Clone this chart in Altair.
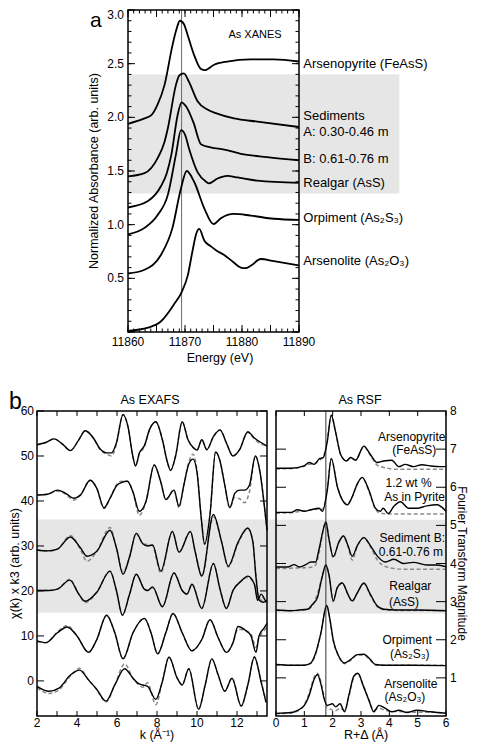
import altair as alt
import pandas as pd

FONT = "Liberation Sans"
BAND = "#e6e6e6"

# ---------------- Panel a: As XANES ----------------
arsenopyrite_e = [11860.0, 11862.9, 11864.1, 11865.2, 11866.4, 11867.8, 11868.5, 11869.1, 11869.8, 11870.5,
                  11871.6, 11872.8, 11873.5, 11875.1, 11877.4, 11881.5, 11885.6, 11890.0]
arsenopyrite_a = [1.94, 1.99, 2.02, 2.12, 2.30, 2.67, 2.82, 2.90, 2.87, 2.76,
                  2.58, 2.45, 2.44, 2.49, 2.52, 2.54, 2.54, 2.52]
sedA_e = [11860.0, 11862.9, 11865.2, 11866.4, 11867.0, 11868.4, 11869.0, 11869.8, 11870.7, 11872.2,
          11874.0, 11875.4, 11878.6, 11882.7, 11890.0]
sedA_a = [1.45, 1.48, 1.62, 1.77, 1.90, 2.30, 2.39, 2.41, 2.33, 2.15, 2.07, 2.04, 1.99, 1.96, 1.91]
sedB_e = [11860.0, 11863.5, 11865.8, 11866.8, 11867.6, 11868.7, 11869.4, 11870.2, 11871.5, 11872.8,
          11874.5, 11876.9, 11879.8, 11884.4, 11890.0]
sedB_a = [1.16, 1.22, 1.36, 1.48, 1.65, 2.02, 2.14, 2.10, 1.95, 1.75, 1.72, 1.70, 1.66, 1.63, 1.60]
realgar_e = [11860.0, 11862.9, 11865.2, 11867.0, 11868.4, 11869.3, 11870.0, 11870.7, 11872.2, 11873.7,
             11874.2, 11875.7, 11877.4, 11879.2, 11882.7, 11890.0]
realgar_a = [0.91, 0.97, 1.09, 1.28, 1.65, 1.88, 1.84, 1.71, 1.49, 1.40, 1.385, 1.43, 1.455, 1.44, 1.41, 1.39]
orpiment_e = [11860.0, 11862.9, 11865.8, 11867.8, 11869.3, 11870.3, 11871.6, 11873.4, 11875.0, 11876.3,
              11878.6, 11881.5, 11885.6, 11890.0]
orpiment_a = [0.545, 0.58, 0.72, 0.97, 1.34, 1.50, 1.40, 1.15, 1.005, 1.06, 1.10, 1.085, 1.055, 1.045]
arsenolite_e = [11860.0, 11863.5, 11865.8, 11868.1, 11869.4, 11870.5, 11871.3, 11872.0, 11872.5, 11873.4,
                11874.5, 11875.5, 11876.8, 11878.5, 11879.8, 11880.6, 11881.6, 11883.3, 11885.6, 11890.0]
arsenolite_a = [0.01, 0.04, 0.10, 0.26, 0.37, 0.53, 0.75, 0.92, 0.96, 0.85,
                0.80, 0.76, 0.72, 0.65, 0.60, 0.595, 0.62, 0.68, 0.66, 0.62]

xanes_edge = [11869.4]
xanes_band = [1.29, 2.40]
xanes_labels = ["Arsenopyrite (FeAsS)", "Sediments", "A: 0.30-0.46 m", "B: 0.61-0.76 m",
                "Realgar (AsS)", "Orpiment (As\u2082S\u2083)", "Arsenolite (As\u2082O\u2083)"]
xanes_label_y = [2.50, 2.015, 1.866, 1.61, 1.39, 1.06, 0.66]
xanes_xtick_labels = [11860, 11870, 11880, 11890]
xanes_ytick_labels = [0.5, 1.0, 1.5, 2.0, 2.5]
xanes_ytick_top = [3.0]

# ---------------- Panel b: As EXAFS (k^3 weighted) ----------------
e1_k = [2.0, 2.44, 2.85, 3.26, 3.67, 4.09, 4.41, 4.82, 5.15, 5.48, 5.73, 5.97, 6.30, 6.55, 6.79, 6.93, 7.12,
        7.37, 7.62, 7.94, 8.27, 8.52, 8.68, 8.93, 9.26, 9.55, 9.83, 10.0, 10.24, 10.49, 10.82, 11.15, 11.47,
        11.80, 12.13, 12.54, 12.87, 13.2, 13.5]
e1_chi = [52.5, 53.0, 53.8, 52.7, 51.2, 53.6, 55.6, 54.0, 51.6, 50.7, 50.7, 52.9, 59.2, 56.5, 50.0, 47.8, 50.7,
          52.3, 55.8, 57.6, 53.6, 48.6, 46.8, 50.0, 57.6, 53.6, 51.8, 51.3, 53.6, 51.4, 54.3, 55.8, 52.9,
          50.0, 51.4, 55.4, 54.0, 53.0, 52.2]
e1_fit = [52.5, 53.0, 53.8, 52.7, 51.2, 53.6, 55.6, 54.0, 51.4, 50.4, 50.0, 52.6, 59.2, 56.5, 50.0, 47.8, 50.5,
          52.0, 55.8, 57.6, 53.6, 48.6, 46.8, 50.0, 57.6, 53.6, 51.8, 51.3, 53.6, 51.4, 54.3, 55.8, 52.9,
          50.0, 51.4, 55.2, 53.8, 52.6, 52.4]

e2_k = [2.0, 2.53, 3.02, 3.43, 3.84, 4.17, 4.66, 4.99, 5.35, 5.65, 6.0, 6.22, 6.52, 6.79, 7.12, 7.45, 7.86,
        8.19, 8.44, 8.85, 9.1, 9.34, 9.59, 9.8, 10.0, 10.21, 10.38, 10.65, 10.93, 11.15, 11.39, 11.64, 11.89,
        12.13, 12.38, 12.62, 12.92, 13.15, 13.36, 13.5]
e2_chi = [41.3, 41.5, 42.4, 41.7, 40.6, 41.3, 44.6, 42.8, 38.5, 40.6, 43.5, 44.1, 44.4, 42.1, 37.7, 39.9, 48.0,
          44.2, 40.3, 42.4, 38.8, 43.5, 48.2, 49.3, 46.4, 36.3, 30.4, 37.0, 50.9, 48.9, 43.5, 38.5, 41.7,
          42.4, 42.4, 43.5, 50.0, 46.4, 39.2, 33.5]
e2_fit = [41.3, 41.5, 42.2, 41.5, 40.2, 41.3, 44.6, 42.8, 38.3, 40.6, 43.8, 44.4, 44.4, 42.1, 36.8, 39.9, 48.0,
          44.2, 40.3, 42.4, 38.5, 43.5, 48.6, 50.4, 46.8, 36.3, 30.4, 37.0, 51.0, 48.9, 43.5, 38.5, 40.8,
          40.5, 39.6, 42.0, 50.0, 46.4, 39.2, 33.5]

e3_k = [2.0, 2.53, 3.02, 3.67, 4.17, 4.5, 4.99, 5.65, 5.97, 6.3, 6.63, 6.96, 7.29, 7.53, 7.78, 8.19, 8.77,
        9.1, 9.67, 9.91, 10.24, 10.82, 11.23, 11.56, 12.05, 12.54, 12.79, 12.95, 13.1, 13.3, 13.5]
e3_chi = [29.1, 28.9, 29.3, 32.0, 29.6, 27.7, 28.8, 33.5, 29.6, 23.7, 27.6, 32.8, 30.5, 30.0, 30.2, 24.4, 33.2,
          28.6, 33.2, 28.7, 23.3, 37.0, 30.9, 25.5, 30.8, 34.0, 31.0, 23.0, 18.0, 17.5, 17.8]
e3_fit = [29.1, 28.9, 29.3, 32.3, 29.2, 26.6, 28.8, 34.1, 29.6, 24.2, 27.6, 32.8, 30.5, 30.3, 30.0, 24.0, 33.2,
          28.6, 33.2, 28.7, 23.3, 36.5, 30.9, 25.3, 30.5, 33.8, 31.0, 23.5, 18.5, 17.8, 17.8]

e4_k = [2.0, 2.6, 3.02, 3.64, 4.09, 4.41, 4.99, 5.65, 5.97, 6.27, 6.63, 6.96, 7.37, 7.53, 7.78, 8.27, 8.85,
        9.26, 9.5, 9.75, 10.24, 10.82, 11.15, 11.47, 11.8, 12.21, 12.54, 12.87, 13.03, 13.2, 13.45]
e4_chi = [20.1, 20.1, 20.4, 22.4, 19.3, 17.7, 19.7, 24.4, 20.1, 14.6, 19.3, 23.7, 20.4, 20.1, 20.9, 16.5, 24.0,
          20.1, 19.3, 21.5, 16.1, 26.1, 20.4, 16.1, 20.1, 22.2, 23.3, 21.5, 17.9, 19.3, 17.5]
e4_fit = [20.1, 20.1, 20.4, 22.6, 19.3, 17.4, 19.7, 24.4, 20.1, 14.6, 19.3, 23.7, 20.4, 20.1, 20.7, 16.5, 24.0,
          20.1, 19.3, 21.5, 16.1, 26.1, 20.4, 16.1, 20.1, 22.2, 23.0, 21.5, 18.5, 18.8, 17.5]

e5_k = [2.0, 2.44, 3.02, 3.51, 4.0, 4.58, 4.99, 5.48, 5.89, 6.3, 6.8, 7.37, 7.7, 8.03, 8.44, 8.8, 9.26, 9.75,
        10.24, 10.65, 11.06, 11.47, 11.8, 12.05, 12.38, 12.7, 12.95, 13.1, 13.36, 13.5]
e5_chi = [8.9, 8.5, 10.7, 12.0, 10.0, 6.35, 9.2, 14.6, 10.7, 4.9, 10.7, 13.9, 10.7, 6.0, 10.7, 15.0, 10.7, 6.7,
          9.2, 13.6, 9.6, 6.35, 8.5, 12.1, 11.4, 10.0, 6.35, 10.0, 11.8, 12.8]
e5_fit = [8.7, 8.5, 10.9, 12.3, 10.0, 6.35, 9.2, 14.6, 10.7, 4.9, 10.7, 13.9, 10.7, 6.0, 10.7, 15.0, 10.7, 6.7,
          9.2, 13.6, 9.6, 6.35, 8.5, 11.5, 11.2, 10.4, 7.5, 9.6, 11.2, 12.0]

e6_k = [2.0, 2.6, 3.1, 3.67, 4.13, 4.58, 4.99, 5.45, 5.89, 6.38, 6.8, 7.04, 7.29, 7.53, 7.94, 8.27, 8.6, 9.01,
        9.26, 9.59, 10.08, 10.41, 10.74, 11.06, 11.39, 11.75, 12.21, 12.54, 12.87, 13.2, 13.45]
e6_chi = [-1.2, -2.3, -1.6, 1.3, 2.4, 0.2, -1.9, -4.5, -0.9, 2.7, 0.6, -0.5, -0.9, -1.2, -4.1, -0.1, 5.3, 0.6,
          -0.9, 2.7, -6.3, -0.9, 4.9, 1.3, -2.3, 0.6, -5.6, -0.9, 5.3, -0.1, -4.8]
e6_fit = [-1.5, -2.8, -2.0, 1.1, 2.8, 0.2, -1.9, -4.7, -0.9, 3.8, 0.6, -0.7, -1.4, -0.4, -5.3, -0.1, 5.3, 0.6,
          -0.9, 2.7, -6.3, -0.9, 4.9, 1.3, -2.3, 0.6, -5.6, -0.9, 5.3, -0.1, -4.5]

exafs_band = [15.15, 35.9]
exafs_xtick_labels = [2, 4, 6, 8, 10, 12]
exafs_ytick_labels = [0, 10, 20, 30, 40, 50, 60]

# ---------------- Panel b: As RSF ----------------
r1_r = [0.0, 0.53, 0.99, 1.17, 1.35, 1.52, 1.67, 1.81, 1.95, 2.1, 2.28, 2.49, 2.63, 2.81, 3.1, 3.33, 3.57, 3.8,
        4.09, 4.33, 4.56, 4.85, 5.15, 5.44, 5.79, 6.0]
r1_ft = [6.5, 6.5, 6.56, 6.65, 6.6, 6.74, 6.78, 7.2, 7.89, 7.46, 6.86, 6.69, 6.78, 6.71, 7.08, 6.86, 6.65, 6.69,
         6.71, 6.54, 6.6, 6.54, 6.59, 6.56, 6.54, 6.54]
r1_fit = [6.48, 6.49, 6.55, 6.6, 6.62, 6.7, 6.8, 7.25, 7.89, 7.46, 6.86, 6.7, 6.76, 6.72, 7.06, 6.84, 6.58, 6.52,
          6.48, 6.47, 6.47, 6.47, 6.47, 6.47, 6.47, 6.47]
r2_r = [0.0, 0.53, 0.76, 1.0, 1.23, 1.52, 1.64, 1.81, 1.95, 2.17, 2.34, 2.52, 2.69, 2.87, 3.04, 3.28, 3.51, 3.68,
        3.78, 3.96, 4.16, 4.39, 4.68, 4.97, 5.32, 5.68, 6.0]
r2_ft = [5.34, 5.34, 5.41, 5.37, 5.41, 5.45, 5.37, 5.92, 6.75, 6.0, 5.67, 5.54, 5.75, 6.09, 6.26, 5.92, 5.45, 5.37,
         5.45, 5.31, 5.5, 5.62, 5.45, 5.45, 5.51, 5.54, 5.37]
r2_fit = [5.32, 5.33, 5.36, 5.38, 5.4, 5.43, 5.42, 5.95, 6.75, 6.0, 5.67, 5.56, 5.75, 6.08, 6.25, 5.9, 5.42, 5.32,
          5.31, 5.3, 5.3, 5.3, 5.3, 5.3, 5.3, 5.3, 5.3]
r3_r = [0.0, 0.41, 0.64, 0.82, 1.05, 1.23, 1.4, 1.52, 1.7, 1.76, 1.87, 2.02, 2.22, 2.38, 2.54, 2.69, 2.87, 3.1,
        3.33, 3.57, 3.86, 4.16, 4.5, 4.85, 5.32, 5.68, 6.0]
r3_ft = [3.91, 3.91, 3.97, 3.91, 3.97, 4.04, 4.04, 4.38, 4.98, 5.09, 4.64, 4.18, 4.56, 4.72, 4.47, 4.19, 4.47, 4.68,
         4.47, 4.2, 4.04, 4.11, 4.0, 4.03, 3.96, 3.96, 3.91]
r3_fit = [3.87, 3.87, 3.88, 3.88, 3.89, 3.9, 3.96, 4.28, 4.98, 5.09, 4.64, 4.15, 4.56, 4.72, 4.45, 4.09, 4.45, 4.68,
          4.44, 4.1, 3.92, 3.87, 3.85, 3.85, 3.85, 3.85, 3.85]
r4_r = [0.0, 0.53, 0.82, 1.11, 1.29, 1.46, 1.62, 1.76, 1.87, 2.02, 2.16, 2.34, 2.54, 2.69, 2.87, 3.1, 3.33, 3.57,
        3.8, 4.27, 4.97, 6.0]
r4_ft = [2.78, 2.76, 2.78, 2.8, 2.93, 3.1, 3.62, 3.96, 3.7, 3.02, 3.36, 3.49, 3.19, 3.02, 3.23, 3.49, 3.19, 2.89,
         2.8, 2.78, 2.78, 2.76]
r4_fit = [2.77, 2.77, 2.77, 2.79, 2.9, 3.2, 3.62, 3.96, 3.7, 3.0, 3.36, 3.49, 3.19, 3.0, 3.23, 3.47, 3.17, 2.87,
          2.79, 2.77, 2.77, 2.77]
r5_r = [0.0, 0.53, 1.0, 1.23, 1.4, 1.58, 1.79, 1.9, 2.02, 2.22, 2.42, 2.63, 2.87, 3.1, 3.33, 3.51, 3.8, 4.5, 6.0]
r5_ft = [1.35, 1.33, 1.33, 1.39, 1.65, 2.16, 2.9, 2.55, 1.99, 1.56, 1.39, 1.48, 1.61, 1.62, 1.48, 1.35, 1.33,
         1.33, 1.32]
r5_fit = [1.34, 1.33, 1.33, 1.38, 1.62, 2.16, 2.9, 2.55, 1.99, 1.55, 1.37, 1.46, 1.6, 1.6, 1.46, 1.34, 1.33,
          1.33, 1.33]
r6_r = [0.0, 0.53, 0.76, 1.0, 1.17, 1.35, 1.46, 1.6, 1.7, 1.81, 1.99, 2.11, 2.26, 2.42, 2.57, 2.75, 2.89, 3.08,
        3.28, 3.45, 3.63, 3.86, 4.09, 4.33, 4.62, 4.97, 5.44, 6.0]
r6_ft = [0.07, 0.09, 0.15, 0.28, 0.54, 0.97, 1.09, 0.79, 0.45, 0.28, 0.32, 0.24, 0.32, 0.11, 0.54, 1.05, 1.12,
         0.79, 0.41, 0.11, 0.28, 0.2, 0.11, 0.15, 0.09, 0.15, 0.11, 0.07]
r6_fit = [0.06, 0.08, 0.13, 0.3, 0.6, 1.02, 1.12, 0.85, 0.5, 0.22, 0.16, 0.14, 0.2, 0.15, 0.5, 1.02, 1.12, 0.8,
          0.42, 0.15, 0.2, 0.15, 0.12, 0.12, 0.1, 0.1, 0.1, 0.08]

rsf_edge = [1.76]
rsf_band = [2.69, 5.15]
rsf_labels = ["Arsenopyrite", "(FeAsS)", "1.2 wt %", "As in Pyrite", "Sediment B:", "0.61-0.76 m",
              "Realgar", "(AsS)", "Orpiment", "(As\u2082S\u2083)", "Arsenolite", "(As\u2082O\u2083)"]
rsf_label_r = [4.79, 4.88, 4.68, 4.89, 4.81, 4.76, 4.74, 4.52, 4.63, 4.72, 4.76, 4.55]
rsf_label_y = [7.33, 6.97, 6.11, 5.75, 4.68, 4.31, 3.40, 3.00, 2.00, 1.62, 0.83, 0.49]
rsf_xtick_labels = [0, 1, 2, 3, 4, 5, 6]
rsf_ytick_labels = [1, 2, 3, 4, 5, 6, 7, 8]


# ---------------- helpers ----------------
def long_frame(series):
    rows = []
    for name, xs, ys in series:
        for i, (x, y) in enumerate(zip(xs, ys)):
            rows.append({"s": name, "x": x, "y": y, "i": i})
    return pd.DataFrame(rows)


def xticks(vals, length, scale, H):
    base = alt.Chart(pd.DataFrame({"t": vals})).mark_rule(color="black", strokeWidth=1)
    X = alt.X("t:Q", scale=scale, axis=None)
    return [base.encode(x=X, y=alt.value(H - length), y2=alt.value(H)),
            base.encode(x=X, y=alt.value(0), y2=alt.value(length))]


def yticks(vals, length, scale, W):
    base = alt.Chart(pd.DataFrame({"t": vals})).mark_rule(color="black", strokeWidth=1)
    Y = alt.Y("t:Q", scale=scale, axis=None)
    return [base.encode(y=Y, x=alt.value(0), x2=alt.value(length)),
            base.encode(y=Y, x=alt.value(W - length), x2=alt.value(W))]


def frame(W, H):
    return alt.Chart(pd.DataFrame({"d": [0]})).mark_rect(
        fillOpacity=0, stroke="black", strokeWidth=1.5
    ).encode(x=alt.value(0), x2=alt.value(W), y=alt.value(0), y2=alt.value(H))


def xlabels(vals, fmt, scale, ypix):
    df = pd.DataFrame({"v": vals, "lab": [fmt.format(v) for v in vals]})
    return alt.Chart(df).mark_text(align="center", baseline="middle", font=FONT, fontSize=12,
                                   color="black").encode(
        x=alt.X("v:Q", scale=scale, axis=None), y=alt.value(ypix), text="lab:N")


def ylabels(vals, fmt, scale, xpix, align, baseline="middle"):
    df = pd.DataFrame({"v": vals, "lab": [fmt.format(v) for v in vals]})
    return alt.Chart(df).mark_text(align=align, baseline=baseline, font=FONT, fontSize=12,
                                   color="black").encode(
        y=alt.Y("v:Q", scale=scale, axis=None), x=alt.value(xpix), text="lab:N")


def title_text(text, xpix, ypix, angle=0, size=12.5):
    return alt.Chart(pd.DataFrame({"lab": [text]})).mark_text(
        align="center", baseline="middle", font=FONT, fontSize=size, color="black", angle=angle).encode(
        x=alt.value(xpix), y=alt.value(ypix), text="lab:N")


def band(x0, x1, y0, y1, xs, ys):
    return alt.Chart(pd.DataFrame({"x": [x0], "x2": [x1], "y": [y0], "y2": [y1]})).mark_rect(
        color=BAND).encode(x=alt.X("x:Q", scale=xs, axis=None), x2="x2:Q",
                           y=alt.Y("y:Q", scale=ys, axis=None), y2="y2:Q")


# ---------------- Panel a ----------------
WA, HA = 171, 322
xA = alt.Scale(domain=[11860, 11890], nice=False, zero=False)
yA = alt.Scale(domain=[0, 3.0], nice=False)

xanes_df = long_frame([
    ("Arsenopyrite", arsenopyrite_e, arsenopyrite_a),
    ("Sediment A", sedA_e, sedA_a),
    ("Sediment B", sedB_e, sedB_a),
    ("Realgar", realgar_e, realgar_a),
    ("Orpiment", orpiment_e, orpiment_a),
    ("Arsenolite", arsenolite_e, arsenolite_a),
])

band_a = band(11860, 11907.6, xanes_band[0], xanes_band[1], xA, yA)
edge_a = alt.Chart(pd.DataFrame({"x": xanes_edge})).mark_rule(color="#6a6a6a", strokeWidth=1).encode(
    x=alt.X("x:Q", scale=xA, axis=None))
curves_a = alt.Chart(xanes_df).mark_line(color="black", strokeWidth=1.8, interpolate="monotone").encode(
    x=alt.X("x:Q", scale=xA, axis=None), y=alt.Y("y:Q", scale=yA, axis=None), detail="s:N", order="i:Q")
lab_a = alt.Chart(pd.DataFrame({"x": [11890.75] * len(xanes_labels), "y": xanes_label_y, "lab": xanes_labels})).mark_text(
    align="left", baseline="middle", font=FONT, fontSize=13, color="black").encode(
    x=alt.X("x:Q", scale=xA, axis=None), y=alt.Y("y:Q", scale=yA, axis=None), text="lab:N")
title_a = title_text("As XANES", 127, 25, size=11)
letter_a = alt.Chart(pd.DataFrame({"lab": ["a"]})).mark_text(
    align="left", baseline="top", font=FONT, fontSize=21, color="black").encode(
    x=alt.value(-38), y=alt.value(0), text="lab:N")

ticks_a = (xticks(list(range(11860, 11891)), 3.5, xA, HA) + xticks(list(range(11860, 11891, 5)), 7, xA, HA)
           + yticks([i / 10 for i in range(0, 31)], 3.5, yA, WA) + yticks([i / 2 for i in range(0, 7)], 7, yA, WA))
axis_a = [
    xlabels(xanes_xtick_labels, "{:d}", xA, HA + 10),
    ylabels(xanes_ytick_labels, "{:.1f}", yA, -4, "right"),
    ylabels(xanes_ytick_top, "{:.1f}", yA, -4, "right", baseline="top"),
    title_text("Energy (eV)", 92, HA + 26),
    title_text("Normalized Absorbance (arb. units)", -34, HA / 2, angle=270),
]

panel_a = alt.layer(band_a, edge_a, curves_a, *ticks_a, frame(WA, HA), lab_a, title_a, letter_a,
                    *axis_a).properties(width=WA, height=HA)

spacer = alt.Chart(pd.DataFrame({"x": [0]})).mark_point(opacity=0).encode(
    x=alt.X("x:Q", axis=None), y=alt.Y("x:Q", axis=None)).properties(width=91, height=HA)

# ---------------- Panel b: EXAFS ----------------
WE, HE = 230, 305
xE = alt.Scale(domain=[2, 13.5], nice=False, zero=False)
yE = alt.Scale(domain=[-7.8, 60], nice=False, zero=False)

exafs_df = long_frame([
    ("Arsenopyrite", e1_k, e1_chi), ("Pyrite", e2_k, e2_chi), ("Sediment B", e3_k, e3_chi),
    ("Realgar", e4_k, e4_chi), ("Orpiment", e5_k, e5_chi), ("Arsenolite", e6_k, e6_chi)])
exafs_fit_df = long_frame([
    ("Arsenopyrite", e1_k, e1_fit), ("Pyrite", e2_k, e2_fit), ("Sediment B", e3_k, e3_fit),
    ("Realgar", e4_k, e4_fit), ("Orpiment", e5_k, e5_fit), ("Arsenolite", e6_k, e6_fit)])

band_e = band(2.0, 13.97, exafs_band[0], exafs_band[1], xE, yE)
fit_e = alt.Chart(exafs_fit_df).mark_line(color="#8a8a8a", strokeWidth=1.5, strokeDash=[4, 2.5],
                                          interpolate="monotone").encode(
    x=alt.X("x:Q", scale=xE, axis=None), y=alt.Y("y:Q", scale=yE, axis=None), detail="s:N", order="i:Q")
data_e = alt.Chart(exafs_df).mark_line(color="black", strokeWidth=1.4, interpolate="monotone").encode(
    x=alt.X("x:Q", scale=xE, axis=None), y=alt.Y("y:Q", scale=yE, axis=None), detail="s:N", order="i:Q")
letter_b = alt.Chart(pd.DataFrame({"lab": ["b"]})).mark_text(
    align="left", baseline="alphabetic", font=FONT, fontSize=23, color="black").encode(
    x=alt.value(-28), y=alt.value(-2), text="lab:N")
ticks_e = xticks(list(range(2, 14)), 5, xE, HE) + yticks([0, 10, 20, 30, 40, 50, 60], 7, yE, WE)
axis_e = [
    xlabels(exafs_xtick_labels, "{:d}", xE, HE + 7),
    ylabels(exafs_ytick_labels, "{:d}", yE, -3, "right"),
    title_text("k (\u00c5\u207b\u00b9)", 120, HE + 19),
    title_text("\u03c7(k) x k3 (arb. units)", -22, HE / 2, angle=270),
    title_text("As EXAFS", 113, -11),
]

panel_e = alt.layer(band_e, fit_e, data_e, *ticks_e, frame(WE, HE), letter_b, *axis_e).properties(
    width=WE, height=HE)

# ---------------- Panel b: RSF ----------------
WR, HR = 170, 305
xR = alt.Scale(domain=[0, 6], nice=False)
yR = alt.Scale(domain=[0, 8], nice=False)

rsf_df = long_frame([
    ("Arsenopyrite", r1_r, r1_ft), ("Pyrite", r2_r, r2_ft), ("Sediment B", r3_r, r3_ft),
    ("Realgar", r4_r, r4_ft), ("Orpiment", r5_r, r5_ft), ("Arsenolite", r6_r, r6_ft)])
rsf_fit_df = long_frame([
    ("Arsenopyrite", r1_r, r1_fit), ("Pyrite", r2_r, r2_fit), ("Sediment B", r3_r, r3_fit),
    ("Realgar", r4_r, r4_fit), ("Orpiment", r5_r, r5_fit), ("Arsenolite", r6_r, r6_fit)])

band_r = band(0.0, 6.0, rsf_band[0], rsf_band[1], xR, yR)
edge_r = alt.Chart(pd.DataFrame({"x": rsf_edge})).mark_rule(color="#333333", strokeWidth=1).encode(
    x=alt.X("x:Q", scale=xR, axis=None))
fit_r = alt.Chart(rsf_fit_df).mark_line(color="#8a8a8a", strokeWidth=1.5, strokeDash=[4, 2.5],
                                        interpolate="monotone").encode(
    x=alt.X("x:Q", scale=xR, axis=None), y=alt.Y("y:Q", scale=yR, axis=None), detail="s:N", order="i:Q")
data_r = alt.Chart(rsf_df).mark_line(color="black", strokeWidth=1.4, interpolate="monotone").encode(
    x=alt.X("x:Q", scale=xR, axis=None), y=alt.Y("y:Q", scale=yR, axis=None), detail="s:N", order="i:Q")
lab_r = alt.Chart(pd.DataFrame({"x": rsf_label_r, "y": rsf_label_y, "lab": rsf_labels})).mark_text(
    align="center", baseline="middle", font=FONT, fontSize=12, color="black").encode(
    x=alt.X("x:Q", scale=xR, axis=None), y=alt.Y("y:Q", scale=yR, axis=None), text="lab:N")
ticks_r = xticks([0, 1, 2, 3, 4, 5, 6], 5, xR, HR) + yticks([1, 2, 3, 4, 5, 6, 7], 10, yR, WR)
axis_r = [
    xlabels(rsf_xtick_labels, "{:d}", xR, HR + 7),
    ylabels(rsf_ytick_labels, "{:d}", yR, WR + 4, "left"),
    title_text("R+\u0394 (\u00c5)", 90, HR + 19),
    title_text("Fourier Transform Magnitude", WR + 16, HR / 2, angle=90, size=12),
    title_text("As RSF", 84, -11),
]

panel_r = alt.layer(band_r, edge_r, fit_r, data_r, *ticks_r, frame(WR, HR), lab_r, *axis_r).properties(
    width=WR, height=HR)

top = alt.hconcat(spacer, panel_a, spacing=0, bounds="flush")
bottom = alt.hconcat(panel_e, panel_r, spacing=9, bounds="flush")

chart = alt.vconcat(top, bottom, spacing=401, bounds="flush").properties(
    padding=0, background="white"
).configure(font=FONT).configure_view(stroke="transparent")

chart.save("out.html", embed_options={"renderer": "svg", "actions": False})
